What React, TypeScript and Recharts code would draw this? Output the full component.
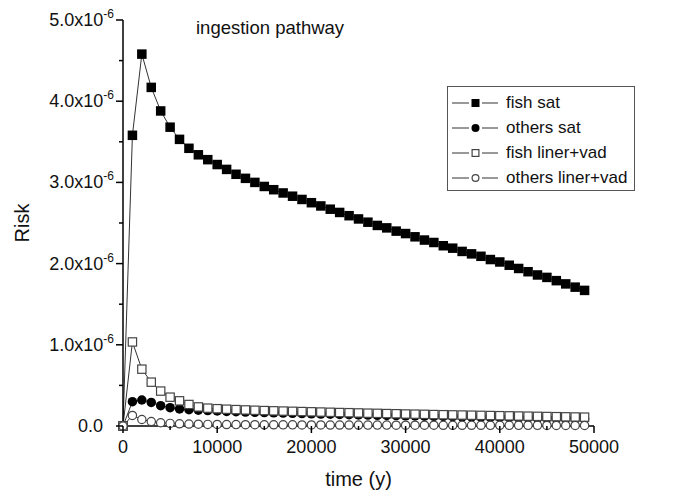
import { LineChart, Line, XAxis, YAxis, Legend } from "recharts";

// time in years
const years = [
  0, 1000, 2000, 3000, 4000, 5000, 6000, 7000, 8000, 9000,
  10000, 11000, 12000, 13000, 14000, 15000, 16000, 17000, 18000, 19000,
  20000, 21000, 22000, 23000, 24000, 25000, 26000, 27000, 28000, 29000,
  30000, 31000, 32000, 33000, 34000, 35000, 36000, 37000, 38000, 39000,
  40000, 41000, 42000, 43000, 44000, 45000, 46000, 47000, 48000, 49000,
];

// risk values, in units of 1e-6
const fishSat = [
  0, 3.58, 4.58, 4.17, 3.88, 3.68, 3.53, 3.42, 3.34, 3.28,
  3.22, 3.16, 3.1, 3.05, 3.0, 2.95, 2.91, 2.87, 2.83, 2.79,
  2.75, 2.71, 2.67, 2.63, 2.59, 2.55, 2.51, 2.47, 2.44, 2.4,
  2.37, 2.33, 2.29, 2.26, 2.22, 2.19, 2.15, 2.12, 2.09, 2.05,
  2.02, 1.98, 1.94, 1.9, 1.86, 1.83, 1.79, 1.75, 1.71, 1.67,
];
const othersSat = [
  0, 0.3, 0.32, 0.29, 0.25, 0.225, 0.21, 0.2, 0.195, 0.19,
  0.185, 0.18, 0.176, 0.172, 0.168, 0.165, 0.162, 0.159, 0.156, 0.153,
  0.15, 0.147, 0.145, 0.142, 0.14, 0.137, 0.135, 0.132, 0.13, 0.128,
  0.126, 0.123, 0.121, 0.119, 0.117, 0.115, 0.113, 0.111, 0.109, 0.107,
  0.105, 0.103, 0.101, 0.099, 0.097, 0.095, 0.093, 0.091, 0.089, 0.087,
];
const fishLiner = [
  0, 1.035, 0.7, 0.54, 0.43, 0.355, 0.31, 0.265, 0.235, 0.22,
  0.213, 0.207, 0.202, 0.198, 0.194, 0.19, 0.187, 0.184, 0.181, 0.178,
  0.175, 0.172, 0.169, 0.166, 0.164, 0.161, 0.158, 0.156, 0.153, 0.151,
  0.148, 0.146, 0.144, 0.141, 0.139, 0.137, 0.135, 0.133, 0.131, 0.129,
  0.127, 0.125, 0.123, 0.121, 0.119, 0.117, 0.115, 0.113, 0.111, 0.109,
];
const othersLiner = [
  0, 0.13, 0.08, 0.055, 0.04, 0.032, 0.027, 0.024, 0.022, 0.02,
  0.019, 0.018, 0.017, 0.016, 0.016, 0.015, 0.015, 0.014, 0.014, 0.013,
  0.013, 0.013, 0.012, 0.012, 0.012, 0.011, 0.011, 0.011, 0.011, 0.01,
  0.01, 0.01, 0.01, 0.01, 0.009, 0.009, 0.009, 0.009, 0.009, 0.008,
  0.008, 0.008, 0.008, 0.008, 0.008, 0.007, 0.007, 0.007, 0.007, 0.007,
];

const xTicks = [0, 5000, 10000, 15000, 20000, 25000, 30000, 35000, 40000, 45000, 50000];
const yTicks = [0, 0.5, 1, 1.5, 2, 2.5, 3, 3.5, 4, 4.5, 5];

const seriesNames = ["fish sat", "others sat", "fish liner+vad", "others liner+vad"];

const data = years.map((t, i) => ({
  t,
  fishSat: fishSat[i],
  othersSat: othersSat[i],
  fishLiner: fishLiner[i],
  othersLiner: othersLiner[i],
}));

const FONT = "'Liberation Sans', Arial, sans-serif";
const LINE = "#333";

type Marker = "filledSquare" | "filledCircle" | "openSquare" | "openCircle";

function MarkerShape({ cx, cy, kind, size = 9.5 }: { cx?: number; cy?: number; kind: Marker; size?: number }) {
  if (cx == null || cy == null) return null;
  const h = size / 2;
  if (kind === "filledSquare") return <rect x={cx - h} y={cy - h} width={size} height={size} fill="#000" />;
  if (kind === "filledCircle") return <circle cx={cx} cy={cy} r={h} fill="#000" />;
  if (kind === "openSquare")
    return <rect x={cx - h + 0.6} y={cy - h + 0.6} width={size - 1.2} height={size - 1.2} fill="#fff" stroke="#444" strokeWidth={1.2} />;
  return <circle cx={cx} cy={cy} r={h - 0.6} fill="#fff" stroke="#444" strokeWidth={1.2} />;
}

function YTick(props: any) {
  const { x, y, payload } = props;
  const axisX = x + 10;
  const v = payload.value as number;
  const major = Number.isInteger(v);
  return (
    <g>
      <line x1={axisX - (major ? 7 : 4)} x2={axisX} y1={y} y2={y} stroke="#000" strokeWidth={1.5} />
      {major && (
        <text x={axisX - (v === 0 ? 20 : 9)} y={y + 6} textAnchor="end" fontFamily={FONT} fontSize={18} fill="#111">
          {v === 0 ? (
            "0.0"
          ) : (
            <>
              {v.toFixed(1)}x10
              <tspan fontSize={12} dy={-8}>-6</tspan>
            </>
          )}
        </text>
      )}
    </g>
  );
}

function XTick(props: any) {
  const { x, y, payload } = props;
  const axisY = y - 10;
  const v = payload.value as number;
  const major = v % 10000 === 0;
  return (
    <g>
      <line x1={x} x2={x} y1={axisY} y2={axisY + (major ? 7 : 4)} stroke="#000" strokeWidth={1.5} />
      {major && (
        <text x={x} y={axisY + 27} textAnchor="middle" fontFamily={FONT} fontSize={18} fill="#111">
          {v}
        </text>
      )}
    </g>
  );
}

const markers: Marker[] = ["filledSquare", "filledCircle", "openSquare", "openCircle"];

function LegendBox() {
  return (
    <div
      style={{
        border: "1px solid #555",
        background: "#fff",
        padding: "3px 0 6px 4px",
        fontFamily: FONT,
        fontSize: 17,
        color: "#111",
        boxSizing: "border-box",
        height: 105,
      }}
    >
      {seriesNames.map((name, i) => (
        <div key={name} style={{ display: "flex", alignItems: "center", height: 25 }}>
          <svg width={50} height={14} style={{ marginRight: 4 }}>
            <line x1={0} x2={17} y1={7} y2={7} stroke={LINE} strokeWidth={1} />
            <line x1={30} x2={46} y1={7} y2={7} stroke={LINE} strokeWidth={1} />
            <MarkerShape cx={23.5} cy={7} kind={markers[i]} size={8} />
          </svg>
          <span>{name}</span>
        </div>
      ))}
    </div>
  );
}

export default function App() {
  return (
    <div style={{ position: "absolute", left: 0, top: 0, width: 680, height: 496, background: "#fff" }}>
      <LineChart width={680} height={496} data={data} margin={{ top: 20, right: 86, left: 0, bottom: 0 }}>
        <XAxis
          dataKey="t"
          type="number"
          domain={[0, 50000]}
          ticks={xTicks}
          interval={0}
          tickSize={0}
          tickMargin={10}
          tickLine={false}
          height={70}
          axisLine={{ stroke: "#000", strokeWidth: 1.5 }}
          tick={<XTick />}
          label={{
            content: ({ viewBox }: any) => (
              <text
                x={viewBox.x + viewBox.width / 2}
                y={viewBox.y + 60}
                textAnchor="middle"
                fontFamily={FONT}
                fontSize={20}
                fill="#111"
              >
                time (y)
              </text>
            ),
          }}
        />
        <YAxis
          type="number"
          domain={[0, 5]}
          ticks={yTicks}
          interval={0}
          width={123}
          tickSize={0}
          tickMargin={10}
          tickLine={false}
          axisLine={{ stroke: "#000", strokeWidth: 1.5 }}
          tick={<YTick />}
          label={{
            content: ({ viewBox }: any) => {
              const cy = viewBox.y + viewBox.height / 2;
              return (
                <text
                  x={29}
                  y={cy}
                  transform={`rotate(-90 29 ${cy})`}
                  textAnchor="middle"
                  fontFamily={FONT}
                  fontSize={20}
                  fill="#111"
                >
                  Risk
                </text>
              );
            },
          }}
        />
        <Legend
          layout="vertical"
          align="center"
          verticalAlign="middle"
          wrapperStyle={{ left: 447, top: 86, width: 188 }}
          content={() => <LegendBox />}
        />
        <Line dataKey="fishSat" name={seriesNames[0]} stroke={LINE} strokeWidth={1} isAnimationActive={false} dot={<MarkerShape kind="filledSquare" />} />
        <Line dataKey="othersSat" name={seriesNames[1]} stroke={LINE} strokeWidth={1} isAnimationActive={false} dot={<MarkerShape kind="filledCircle" />} />
        <Line dataKey="fishLiner" name={seriesNames[2]} stroke={LINE} strokeWidth={1} isAnimationActive={false} dot={<MarkerShape kind="openSquare" />} />
        <Line dataKey="othersLiner" name={seriesNames[3]} stroke={LINE} strokeWidth={1} isAnimationActive={false} dot={<MarkerShape kind="openCircle" />} />
      </LineChart>
      <div
        style={{
          position: "absolute",
          left: 196,
          top: 17,
          fontFamily: FONT,
          fontSize: 18.5,
          color: "#111",
          whiteSpace: "nowrap",
        }}
      >
        ingestion pathway
      </div>
    </div>
  );
}
